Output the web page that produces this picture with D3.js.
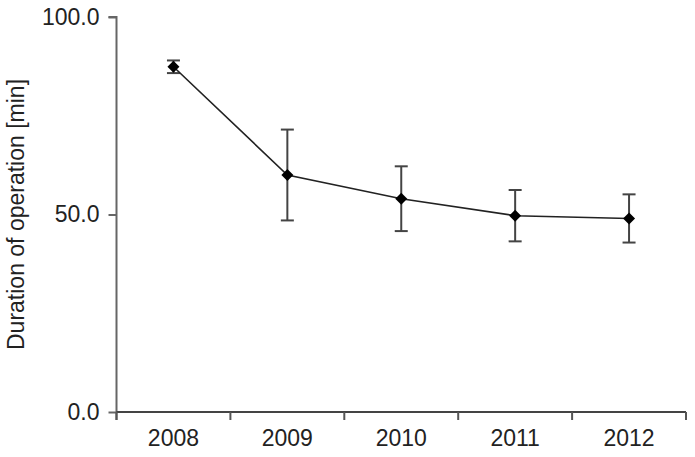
<!DOCTYPE html>
<html>
<head>
<meta charset="utf-8">
<script src="https://cdn.jsdelivr.net/npm/d3@7"></script>
<style>
  body { margin: 0; background: #fff; }
  text { font-family: "Liberation Sans", Arial, sans-serif; fill: #222; }
</style>
</head>
<body>
<div id="chartDiv"></div>
<script>
// data
var years = ["2008", "2009", "2010", "2011", "2012"];
var means = [87.4, 60.0, 54.0, 49.7, 49.0];
var errs  = [1.6, 11.5, 8.2, 6.5, 6.1];
var yTicks = [0, 50, 100];

var svg = d3.select("#chartDiv").append("svg")
    .attr("width", 695)
    .attr("height", 457);

var margin = {top: 17, right: 9, bottom: 45, left: 116.5};
var width = 695 - margin.left - margin.right,
    height = 457 - margin.top - margin.bottom;

var chart = svg.append("g")
    .attr("transform", "translate(" + margin.left + "," + margin.top + ")");

var x_scale = d3.scaleBand().domain(years).range([0, width]);
var y_scale = d3.scaleLinear().domain([0, 100]).range([height, 0]);

var rows = years.map(function(y, i) {
  return {year: y, mean: means[i], err: errs[i]};
});

// y axis
var yAxis = d3.axisLeft(y_scale)
    .tickValues(yTicks)
    .tickFormat(d3.format(".1f"))
    .tickSize(8)
    .tickPadding(9);
var yg = chart.append("g").call(yAxis);
yg.select(".domain").attr("stroke", "#666").attr("stroke-width", 2).attr("d", "M0," + (height + 8) + "V0H-8");
yg.selectAll(".tick line").attr("stroke", "#666").attr("stroke-width", 2);
yg.selectAll(".tick text").attr("font-size", 23).attr("fill", "#222")
  .attr("font-family", "Liberation Sans, Arial, sans-serif");

// x axis, ticks at band edges
var xg = chart.append("g").attr("transform", "translate(0," + height + ")");
xg.append("line").attr("x1", 0).attr("x2", width)
  .attr("stroke", "#444").attr("stroke-width", 2);
var edges = years.map(function(y) { return x_scale(y); }).concat([width]);
xg.selectAll(".edge").data(edges).enter().append("line")
  .attr("x1", function(d) { return d; }).attr("x2", function(d) { return d; })
  .attr("y1", 0).attr("y2", 8)
  .attr("stroke", "#555").attr("stroke-width", 2);
xg.selectAll(".xl").data(years).enter().append("text")
  .attr("x", function(d) { return x_scale(d) + x_scale.bandwidth() / 2; })
  .attr("y", 34)
  .attr("text-anchor", "middle")
  .attr("font-size", 23)
  .text(function(d) { return d; });

// y label
svg.append("text")
  .attr("transform", "translate(23.5," + (margin.top + height / 2) + ") rotate(-90)")
  .attr("text-anchor", "middle")
  .attr("font-size", 23)
  .text("Duration of operation [min]");

function cx(d) { return x_scale(d.year) + x_scale.bandwidth() / 2; }

// error bars
var eb = chart.append("g").attr("stroke", "#444").attr("stroke-width", 2).attr("fill", "none");
eb.selectAll(".v").data(rows).enter().append("line")
  .attr("x1", cx).attr("x2", cx)
  .attr("y1", function(d) { return y_scale(d.mean + d.err); })
  .attr("y2", function(d) { return y_scale(d.mean - d.err); });
eb.selectAll(".capt").data(rows).enter().append("line")
  .attr("x1", function(d) { return cx(d) - 6.5; }).attr("x2", function(d) { return cx(d) + 6.5; })
  .attr("y1", function(d) { return y_scale(d.mean + d.err); })
  .attr("y2", function(d) { return y_scale(d.mean + d.err); });
eb.selectAll(".capb").data(rows).enter().append("line")
  .attr("x1", function(d) { return cx(d) - 6.5; }).attr("x2", function(d) { return cx(d) + 6.5; })
  .attr("y1", function(d) { return y_scale(d.mean - d.err); })
  .attr("y2", function(d) { return y_scale(d.mean - d.err); });

// line
var line = d3.line().x(cx).y(function(d) { return y_scale(d.mean); });
chart.append("path").datum(rows)
  .attr("d", line)
  .attr("fill", "none")
  .attr("stroke", "#222")
  .attr("stroke-width", 1.6);

// diamond markers
chart.selectAll(".pt").data(rows).enter().append("path")
  .attr("d", d3.symbol().type(d3.symbolSquare).size(72))
  .attr("transform", function(d) {
    return "translate(" + cx(d) + "," + y_scale(d.mean) + ") rotate(45)";
  })
  .attr("fill", "#000");
</script>
</body>
</html>
